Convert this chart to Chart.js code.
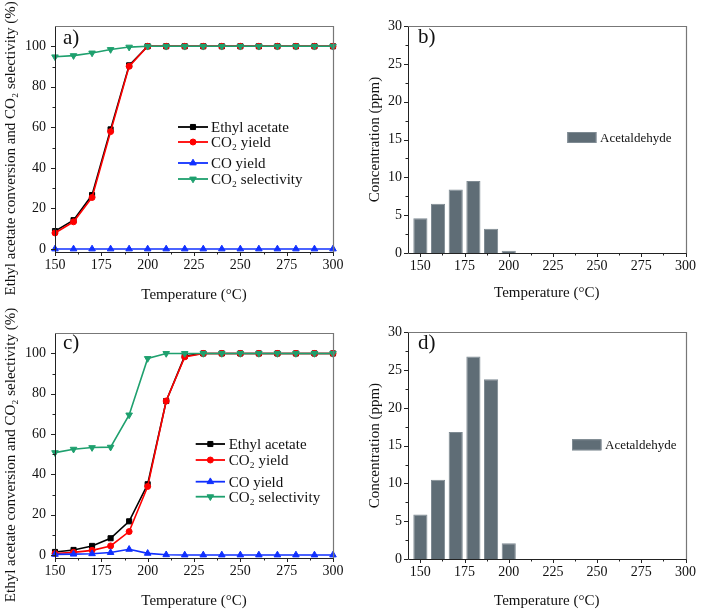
<!DOCTYPE html>
<html><head><meta charset="utf-8">
<script src="https://cdn.jsdelivr.net/npm/chart.js@4.4.1/dist/chart.umd.min.js"></script>
<style>
html,body{margin:0;padding:0;background:#fff;}
#wrap{position:relative;width:701px;height:611px;overflow:hidden;background:#fff;}
.p{position:absolute;}
canvas{display:block;}
</style></head><body>
<div id="wrap">
<div class="p" style="left:0;top:0;"><canvas id="ca" width="350" height="306"></canvas></div>
<div class="p" style="left:350px;top:0;"><canvas id="cb" width="351" height="306"></canvas></div>
<div class="p" style="left:0;top:306px;"><canvas id="cc" width="350" height="305"></canvas></div>
<div class="p" style="left:350px;top:306px;"><canvas id="cd" width="351" height="305"></canvas></div>
</div>
<script>
// ---------- data ----------
const temps = [150,160,170,180,190,200,210,220,230,240,250,260,270,280,290,300];
// panel a
const aEthyl = [8.8,14.2,26.6,59.0,90.6,100,100,100,100,100,100,100,100,100,100,100];
const aCO2Yield = [7.9,13.4,25.4,57.9,90.1,100,100,100,100,100,100,100,100,100,100,100];
const aCOYield = [0,0,0,0,0,0,0,0,0,0,0,0,0,0,0,0];
const aCO2Sel = [94.8,95.4,96.7,98.4,99.6,100,100,100,100,100,100,100,100,100,100,100];
// panel b
const bAcetaldehyde = [4.6,6.5,8.4,9.5,3.2,0.3,0,0,0,0,0,0,0,0,0,0];
// panel c
const cEthyl = [1.5,2.5,4.5,8.3,16.7,35.1,76.4,98.7,100,100,100,100,100,100,100,100];
const cCO2Yield = [0.7,1.3,2.3,4.5,11.6,34.0,76.4,98.3,100,100,100,100,100,100,100,100];
const cCOYield = [0.3,0.4,0.6,1.2,2.8,0.8,0.1,0,0,0,0,0,0,0,0,0];
const cCO2Sel = [50.8,52.5,53.3,53.5,69.5,97.5,100,100,100,100,100,100,100,100,100,100];
// panel d
const dAcetaldehyde = [5.9,10.5,16.8,26.8,23.8,2.1,0,0,0,0,0,0,0,0,0,0];
// tick labels
const xTicks = [150,175,200,225,250,275,300];
const lineYTicks = [0,20,40,60,80,100];
const barYTicks = [0,5,10,15,20,25,30];
const seriesNames = ['Ethyl acetate','CO\u2082 yield','CO yield','CO\u2082 selectivity'];
const barName = 'Acetaldehyde';
const xTitle = 'Temperature (\u00B0C)';
const lineYTitle = 'Ethyl acetate conversion and CO\u2082 selectivity (%)\u2002\u2002 ';
const barYTitle = 'Concentration (ppm)';

// ---------- styles ----------
const SERIF = '"Liberation Serif","Times New Roman",serif';
const lineStyles = [
  {color:'#000000', pointStyle:'rect', radius:3.6, rotation:0},
  {color:'#ff0000', pointStyle:'circle', radius:3, rotation:0},
  {color:'#1030ff', pointStyle:'triangle', radius:3.8, rotation:0},
  {color:'#1ea06e', pointStyle:'triangle', radius:3.8, rotation:180}
];
const BAR_FILL = '#5f6d76', BAR_EDGE = '#7f8b93';

function mids(arr){const m=[];for(let i=0;i<arr.length-1;i++)m.push((arr[i]+arr[i+1])/2);return m;}

const decorPlugin = {
  id:'decor',
  afterDraw(chart, args, o){
    const {ctx, chartArea:a, scales:{x,y}} = chart;
    ctx.save();
    ctx.lineWidth = 1;
    ctx.strokeStyle = '#222';
    const xs = v => Math.round(x.getPixelForValue(v))+0.5;
    const ys = v => Math.round(y.getPixelForValue(v))+0.5;
    ctx.beginPath();
    o.xMajor.forEach(v=>{const p=xs(v);ctx.moveTo(p,a.bottom);ctx.lineTo(p,a.bottom+4);});
    mids(o.xMajor).forEach(v=>{const p=xs(v);ctx.moveTo(p,a.bottom);ctx.lineTo(p,a.bottom+2.5);});
    o.yMajor.forEach(v=>{const p=ys(v);ctx.moveTo(a.left,p);ctx.lineTo(a.left-4,p);});
    mids(o.yMajor).forEach(v=>{const p=ys(v);ctx.moveTo(a.left,p);ctx.lineTo(a.left-2.5,p);});
    ctx.stroke();
    // frame
    const L=Math.round(a.left)+0.5, R=Math.round(a.right)+0.5, T=Math.round(a.top)+0.5, B=Math.round(a.bottom)+0.5;
    ctx.strokeStyle='#777'; ctx.lineWidth=1.2;
    ctx.beginPath(); ctx.moveTo(L,T); ctx.lineTo(R,T); ctx.lineTo(R,B); ctx.stroke();
    ctx.strokeStyle='#222'; ctx.lineWidth=1;
    ctx.beginPath(); ctx.moveTo(L,T); ctx.lineTo(L,B); ctx.lineTo(R,B); ctx.stroke();
    // panel label
    ctx.fillStyle='#111'; ctx.font='21px '+SERIF; ctx.textBaseline='middle'; ctx.textAlign='left';
    ctx.fillText(o.label, a.left+o.labelDx, a.top+o.labelDy);
    // legend
    const lg = o.legend;
    ctx.font = lg.fontSize+'px '+SERIF;
    chart.data.datasets.forEach((ds,i)=>{
      const yy = a.top + lg.rows[i];
      const x0 = a.left + lg.x0, x1 = a.left + lg.x1;
      if (lg.kind==='line'){
        ctx.strokeStyle = ds.borderColor; ctx.lineWidth = 1.8;
        ctx.beginPath(); ctx.moveTo(x0,yy); ctx.lineTo(x1,yy); ctx.stroke();
        ctx.fillStyle = ds.pointBackgroundColor; ctx.strokeStyle = ds.pointBorderColor; ctx.lineWidth=1;
        Chart.helpers.drawPoint(ctx,{pointStyle:ds.pointStyle, radius:ds.pointRadius, rotation:ds.pointRotation, borderWidth:1},(x0+x1)/2,yy);
      } else {
        ctx.fillStyle = ds.backgroundColor; ctx.strokeStyle = ds.borderColor; ctx.lineWidth=1;
        ctx.fillRect(x0,yy-lg.boxH/2,x1-x0,lg.boxH);
        ctx.strokeRect(x0+0.5,yy-lg.boxH/2+0.5,x1-x0-1,lg.boxH-1);
      }
      ctx.fillStyle='#111'; ctx.textBaseline='middle'; ctx.textAlign='left';
      ctx.fillText(ds.label, a.left+lg.tx, yy+1);
    });
    ctx.restore();
  }
};

function makeOptions(c){
  return {
    responsive:false, animation:false, events:[],
    layout:{padding:{left:c.padL, top:c.padT, right:c.padR, bottom:0}},
    plugins:{legend:{display:false}, tooltip:{enabled:false}, decor:c.decor},
    scales:{
      x:{type:'linear', min:c.xmin, max:300, offset:false,
        grid:{display:false, drawTicks:false}, border:{display:false},
        afterBuildTicks:s=>{s.ticks = xTicks.map(v=>({value:v}));},
        afterFit:s=>{s.height = c.xH;},
        ticks:{padding:5, autoSkip:false, maxRotation:0, color:'#111', font:{family:SERIF,size:14}},
        title:{display:true, text:xTitle, color:'#111', font:{family:SERIF,size:15}, padding:{top:0,bottom:c.xTitleB}}
      },
      y:{type:'linear', min:c.ymin, max:c.ymax,
        grid:{display:false, drawTicks:false}, border:{display:false},
        afterBuildTicks:s=>{s.ticks = c.yTicks.map(v=>({value:v}));},
        afterFit:s=>{s.width = c.yW;},
        ticks:{padding:c.yTickPad, color:'#111', font:{family:SERIF,size:14}},
        title:{display:true, text:c.yTitle, color:'#111', font:{family:SERIF,size:15}, padding:{top:c.yTitleT,bottom:0}}
      }
    }
  };
}

function lineDatasets(series){
  return series.map((vals,i)=>({
    label: seriesNames[i],
    data: temps.map((t,k)=>({x:t,y:vals[k]})),
    borderColor: lineStyles[i].color, backgroundColor: lineStyles[i].color,
    pointBackgroundColor: lineStyles[i].color, pointBorderColor: lineStyles[i].color,
    pointStyle: lineStyles[i].pointStyle, pointRadius: lineStyles[i].radius, pointRotation: lineStyles[i].rotation,
    pointBorderWidth:1, borderWidth:1.6, tension:0, fill:false, clip:false,
    order: 3-i
  }));
}
function barDataset(vals){
  return [{label:barName, data: temps.map((t,k)=>({x:t,y:vals[k]})),
    backgroundColor:BAR_FILL, borderColor:BAR_EDGE, borderWidth:1, borderSkipped:'start',
    categoryPercentage:1.0, barPercentage:0.8}];
}

new Chart(document.getElementById('ca'),{
  type:'line', plugins:[decorPlugin],
  data:{datasets: lineDatasets([aEthyl,aCO2Yield,aCOYield,aCO2Sel])},
  options: makeOptions({padL:0,padT:26,padR:17,xmin:150,xH:54,xTitleB:2,ymin:-1.5,ymax:110,yTicks:lineYTicks,yW:55,yTickPad:9,yTitle:lineYTitle,yTitleT:2,
    decor:{xMajor:xTicks,yMajor:lineYTicks,label:'a)',labelDx:8,labelDy:12.5,
      legend:{kind:'line',x0:123,x1:153,tx:156,rows:[101,116,137,153],fontSize:15}}})
});
new Chart(document.getElementById('cb'),{
  type:'bar', plugins:[decorPlugin],
  data:{datasets: barDataset(bAcetaldehyde)},
  options: makeOptions({padL:12,padT:26,padR:12,xmin:143,xH:53,xTitleB:4,ymin:0,ymax:30,yTicks:barYTicks,yW:46,yTickPad:6,yTitle:barYTitle,yTitleT:4,
    decor:{xMajor:xTicks,yMajor:barYTicks,label:'b)',labelDx:10,labelDy:11,
      legend:{kind:'bar',x0:159.4,x1:188.4,tx:192,rows:[111.5],boxH:11,fontSize:13}}})
});
new Chart(document.getElementById('cc'),{
  type:'line', plugins:[decorPlugin],
  data:{datasets: lineDatasets([cEthyl,cCO2Yield,cCOYield,cCO2Sel])},
  options: makeOptions({padL:0,padT:27.3,padR:17,xmin:150,xH:53,xTitleB:1,ymin:-1.5,ymax:110,yTicks:lineYTicks,yW:55,yTickPad:9,yTitle:lineYTitle,yTitleT:2,
    decor:{xMajor:xTicks,yMajor:lineYTicks,label:'c)',labelDx:8,labelDy:10,
      legend:{kind:'line',x0:140.7,x1:170,tx:173.7,rows:[110.7,126.7,148.4,163.4],fontSize:15}}})
});
new Chart(document.getElementById('cd'),{
  type:'bar', plugins:[decorPlugin],
  data:{datasets: barDataset(dAcetaldehyde)},
  options: makeOptions({padL:12,padT:26.3,padR:12,xmin:143,xH:52,xTitleB:1,ymin:0,ymax:30,yTicks:barYTicks,yW:46,yTickPad:6,yTitle:barYTitle,yTitleT:4,
    decor:{xMajor:xTicks,yMajor:barYTicks,label:'d)',labelDx:10,labelDy:11,
      legend:{kind:'bar',x0:164,x1:193.4,tx:197,rows:[112.5],boxH:11,fontSize:13}}})
});
</script>
</body></html>
